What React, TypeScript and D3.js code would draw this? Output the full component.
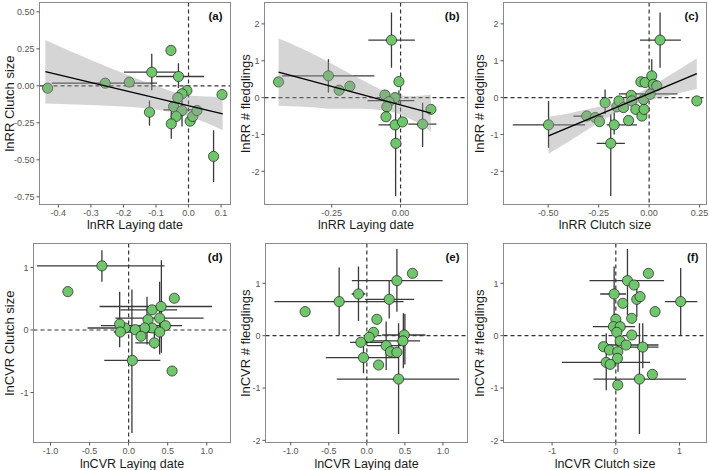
import React from "react";
import * as d3 from "d3";

// ---------- data ----------
// points: [x, y]; xErr: [y, x0, x1]; yErr: [x, y0, y1]
const aPoints = [[-0.433,-0.016],[-0.256,0.018],[-0.182,0.025],[-0.113,0.092],[-0.054,0.239],[-0.031,0.063],[-0.005,-0.032],[-0.020,-0.054],[-0.033,-0.080],[-0.120,-0.178],[-0.046,-0.140],[-0.020,-0.167],[-0.038,-0.207],[-0.053,-0.257],[0.005,-0.239],[0.013,-0.207],[0.026,-0.167],[0.103,-0.059],[0.077,-0.477]];
const aXErr = [[0.018,-0.42,-0.097],[0.092,-0.198,-0.038],[0.063,-0.100,0.048],[-0.162,-0.077,0.031]];
const aYErr = [[-0.113,0.216,-0.03],[-0.031,0.153,-0.014],[-0.12,-0.10,-0.27],[-0.053,-0.167,-0.358],[0.077,-0.30,-0.65],[-0.02,-0.10,-0.275]];
const aFitX = [-0.44, 0.105];
const aFitY = [0.096, -0.19];
const aBandX = [-0.44,-0.3,-0.2,-0.1,0,0.105];
const aBandLo = [-0.12,-0.13,-0.14,-0.16,-0.205,-0.30];
const aBandHi = [0.31,0.175,0.085,0.0,-0.065,-0.075];

const bPoints = [[-0.443,0.425],[-0.262,0.59],[-0.223,0.2],[-0.184,0.31],[-0.033,1.56],[-0.006,0.435],[-0.057,0.07],[-0.02,0.0],[-0.042,-0.11],[-0.05,-0.25],[-0.053,-0.52],[-0.02,-0.74],[0.007,-0.66],[-0.017,-1.24],[0.08,-0.72],[0.11,-0.32]];
const bXErr = [[0.59,-0.43,-0.095],[1.56,-0.117,0.052],[-0.74,-0.08,0.004],[-0.72,0.028,0.13],[-0.08,-0.12,0.05]];
const bYErr = [[-0.262,1.04,0.14],[-0.033,2.31,0.81],[-0.018,-0.1,-2.67],[0.08,-0.14,-1.34],[-0.006,0.2,-0.2]];
const bFitX = [-0.443, 0.11];
const bFitY = [0.69, -0.42];
const bBandX = [-0.443,-0.35,-0.25,-0.15,-0.05,0.03,0.11];
const bBandLo = [-0.22,-0.25,-0.3,-0.3,-0.36,-0.56,-0.92];
const bBandHi = [1.6,1.3,0.92,0.52,0.16,0.04,0.08];

const cPoints = [[-0.498,-0.74],[-0.309,-0.5],[-0.267,-0.54],[-0.246,-0.65],[-0.218,-0.14],[-0.19,-1.24],[-0.173,-0.74],[-0.16,-0.25],[-0.149,-0.09],[-0.127,-0.27],[-0.102,-0.62],[-0.089,0.06],[-0.086,-0.09],[-0.066,-0.32],[-0.036,-0.5],[-0.025,-0.32],[-0.028,-0.05],[-0.041,0.43],[-0.02,0.41],[0.013,0.59],[0.021,0.36],[0.038,0.32],[0.005,0.09],[0.054,1.56],[0.236,-0.09]];
const cXErr = [[-0.74,-0.675,-0.317],[-1.24,-0.26,-0.12],[-0.74,-0.21,-0.06],[1.56,-0.045,0.157],[0.1,-0.15,0.14],[-0.5,-0.375,-0.226]];
const cYErr = [[-0.498,-0.09,-1.36],[-0.19,-0.45,-2.67],[0.054,2.31,0.81],[0.013,1.04,0.18],[-0.218,0.22,-0.45],[-0.173,-0.4,-1.0]];
const cFitX = [-0.498, 0.236];
const cFitY = [-1.04, 0.65];
const cBandX = [-0.498,-0.4,-0.3,-0.2,-0.1,0,0.1,0.236];
const cBandLo = [-1.52,-1.2,-0.85,-0.52,-0.25,-0.07,0.06,0.23];
const cBandHi = [-0.52,-0.43,-0.31,-0.19,0.0,0.28,0.6,1.07];

const dPoints = [[-0.342,1.026],[-0.778,0.614],[0.585,0.508],[0.3,0.323],[0.415,0.376],[0.248,0.164],[0.397,0.19],[0.47,0.069],[0.303,0.032],[0.205,0.032],[0.085,0.005],[-0.043,0.032],[-0.115,0.095],[-0.107,-0.032],[0.158,-0.1],[0.397,-0.032],[0.329,-0.206],[0.047,-0.487],[0.556,-0.656]];
const dXErr = [[1.026,-1.175,0.46],[0.376,-0.372,1.068],[0.323,-0.107,0.62],[0.19,-0.17,0.96],[0.069,-0.355,0.684],[0.032,-0.526,0.534],[-0.032,-0.19,0.36],[-0.206,0.085,0.33],[-0.487,-0.312,0.406]];
const dYErr = [[-0.342,1.275,0.772],[-0.115,0.614,-0.275],[0.042,0.65,-1.646],[0.235,0.534,-0.233],[0.397,0.772,-0.39],[0.419,1.116,-0.365],[0.329,0.005,-0.3]];

const ePoints = [[-0.811,0.459],[-0.364,0.65],[-0.11,0.796],[0.395,1.05],[0.6,1.19],[0.294,0.694],[0.132,0.312],[0.088,0.064],[0.031,-0.032],[-0.079,-0.127],[-0.044,-0.42],[0.154,-0.56],[0.254,-0.19],[0.311,-0.306],[0.395,-0.318],[0.491,0.013],[0.474,-0.1],[0.417,-0.828]];
const eXErr = [[0.65,-1.215,0.482],[0.796,-0.2,-0.02],[1.05,-0.197,0.996],[0.694,-0.022,0.623],[0.013,0.2,0.77],[-0.1,0.0,0.7],[-0.127,-0.22,0.22],[-0.42,-0.54,0.41],[-0.828,-0.395,1.215],[-0.19,0.0,0.45]];
const eYErr = [[-0.364,1.3,0.013],[-0.11,1.32,0.28],[0.395,1.656,0.459],[0.294,1.045,0.33],[0.254,0.27,-0.656],[0.417,0.236,-1.88],[0.48,0.43,-0.62],[-0.044,-0.21,-0.72],[0.5,0.42,-0.55]];

const fPoints = [[1.018,0.65],[0.512,1.19],[0.183,1.05],[0.287,0.968],[-0.026,0.796],[0.329,0.694],[0.381,0.745],[0.11,0.618],[0.616,0.459],[0.25,0.331],[0,0.312],[-0.037,0.172],[0.068,0.172],[0.016,0.064],[0.25,0.013],[0.068,-0.1],[-0.193,-0.21],[-0.099,-0.274],[0.162,-0.178],[0.423,-0.217],[0.031,-0.306],[0.026,-0.433],[-0.151,-0.51],[-0.089,-0.548],[0.574,-0.739],[0.371,-0.828],[0.031,-0.943]];
const fXErr = [[0.65,0.773,1.279],[1.05,-0.413,0.757],[0.796,-0.245,0.16],[0.172,-0.36,0.3],[-0.178,-0.17,0.67],[-0.217,0.1,0.67],[-0.51,-0.846,0.538],[-0.828,-0.35,1.1]];
const fYErr = [[-0.026,1.32,0.27],[0.183,1.656,0.395],[1.018,1.29,0.01],[-0.15,0.045,-1.04],[0.371,0.236,-1.88],[0.035,-0.115,-0.69],[0.423,0.236,-0.62],[0.33,1.03,0.36]];

const tickA_X = [-0.4,-0.3,-0.2,-0.1,0,0.1];
const tickA_Y = [0.5,0.25,0,-0.25,-0.5,-0.75];
const tickB_X = [-0.25,0];
const tickC_X = [-0.5,-0.25,0,0.25];
const tickBC_Y = [2,1,0,-1,-2];
const tickDE_X = [-1,-0.5,0,0.5,1];
const tickD_Y = [1,0,-1];
const tickEF_Y = [1,0,-1,-2];
const tickF_X = [-1,0,1];

const panels = [
  { tag: "(a)", box: [39.5, 2.5, 230.5, 204.5], xd: [-0.458, 0.129], yd: [-0.802, 0.563], xt: tickA_X, yt: tickA_Y, xf: 1, yf: 2,
    xl: "lnRR Laying date", yl: "lnRR Clutch size", ylx: 9, xly: 229, pts: aPoints, xe: aXErr, ye: aYErr, fx: aFitX, fy: aFitY, bx: aBandX, blo: aBandLo, bhi: aBandHi },
  { tag: "(b)", box: [264.5, 2.5, 467.5, 204.5], xd: [-0.494, 0.243], yd: [-2.90, 2.58], xt: tickB_X, yt: tickBC_Y, xf: 2, yf: 0,
    xl: "lnRR Laying date", yl: "lnRR # fledglings", ylx: 245, xly: 229, pts: bPoints, xe: bXErr, ye: bYErr, fx: bFitX, fy: bFitY, bx: bBandX, blo: bBandLo, bhi: bBandHi },
  { tag: "(c)", box: [503.5, 2.5, 706.5, 204.5], xd: [-0.721, 0.284], yd: [-2.90, 2.58], xt: tickC_X, yt: tickBC_Y, xf: 2, yf: 0,
    xl: "lnRR Clutch size", yl: "lnRR # fledglings", ylx: 479, xly: 229, pts: cPoints, xe: cXErr, ye: cYErr, fx: cFitX, fy: cFitY, bx: cBandX, blo: cBandLo, bhi: cBandHi },
  { tag: "(d)", box: [33.5, 243.5, 230.5, 442.5], xd: [-1.218, 1.304], yd: [-1.80, 1.384], xt: tickDE_X, yt: tickD_Y, xf: 1, yf: 0,
    xl: "lnCVR Laying date", yl: "lnCVR Clutch size", ylx: 9, xly: 467.5, pts: dPoints, xe: dXErr, ye: dYErr },
  { tag: "(e)", box: [265.5, 243.5, 467.5, 442.5], xd: [-1.332, 1.323], yd: [-2.04, 1.76], xt: tickDE_X, yt: tickEF_Y, xf: 1, yf: 0,
    xl: "lnCVR Laying date", yl: "lnCVR # fledglings", ylx: 245, xly: 467.5, pts: ePoints, xe: eXErr, ye: eYErr },
  { tag: "(f)", box: [503.5, 243.5, 706.5, 442.5], xd: [-1.762, 1.423], yd: [-2.04, 1.76], xt: tickF_X, yt: tickEF_Y, xf: 0, yf: 0,
    xl: "lnCVR Clutch size", yl: "lnCVR # fledglings", ylx: 479, xly: 467.5, pts: fPoints, xe: fXErr, ye: fYErr },
];

const FONT = "'Liberation Sans', Arial, Helvetica, sans-serif";
const FILL = "#6fc66c";

function Panel({ p }: { p: any }) {
  const [x0, y0, x1, y1] = p.box;
  const xs = d3.scaleLinear().domain(p.xd).range([x0, x1]);
  const ys = d3.scaleLinear().domain(p.yd).range([y1, y0]);
  const clipId = "clip" + p.tag.replace(/[()]/g, "");
  const band = p.bx
    ? d3.area<number>().x((_, i) => xs(p.bx[i])).y0((_, i) => ys(p.blo[i])).y1((_, i) => ys(p.bhi[i])).curve(d3.curveMonotoneX)(p.bx)
    : null;
  const fit = p.fx ? d3.line<number>().x((_, i) => xs(p.fx[i])).y((_, i) => ys(p.fy[i]))(p.fx) : null;
  const cx = (x0 + x1) / 2;
  const cy = (y0 + y1) / 2;
  return (
    <g>
      <defs>
        <clipPath id={clipId}><rect x={x0} y={y0} width={x1 - x0} height={y1 - y0} /></clipPath>
      </defs>
      <g clipPath={`url(#${clipId})`}>
        <line x1={xs(0)} x2={xs(0)} y1={y0} y2={y1} stroke="#333" strokeWidth={1.2} strokeDasharray="4,3" />
        <line x1={x0} x2={x1} y1={ys(0)} y2={ys(0)} stroke="#333" strokeWidth={1.2} strokeDasharray="4,3" />
        {p.xe.map((e: number[], i: number) => (
          <line key={"xe" + i} x1={xs(e[1])} x2={xs(e[2])} y1={ys(e[0])} y2={ys(e[0])} stroke="#3a3a3a" strokeWidth={1.3} />
        ))}
        {p.ye.map((e: number[], i: number) => (
          <line key={"ye" + i} x1={xs(e[0])} x2={xs(e[0])} y1={ys(e[1])} y2={ys(e[2])} stroke="#3a3a3a" strokeWidth={1.3} />
        ))}
        {p.pts.map((d: number[], i: number) => (
          <circle key={"p" + i} cx={xs(d[0])} cy={ys(d[1])} r={5.1} fill={FILL} stroke="#1e1e1e" strokeWidth={0.7} />
        ))}
        {band && <path d={band} fill="#9a9a9a" fillOpacity={0.42} stroke="none" />}
        {fit && <path d={fit} fill="none" stroke="#000" strokeWidth={1.4} />}
      </g>
      <rect x={x0} y={y0} width={x1 - x0} height={y1 - y0} fill="none" stroke="#8a8a8a" strokeWidth={1} />
      <text x={x1 - 8} y={y0 + 17} textAnchor="end" fontSize={11.5} fontWeight="bold" fill="#111" fontFamily={FONT}>{p.tag}</text>
      {p.xt.map((t: number, i: number) => (
        <g key={"xt" + i}>
          <line x1={xs(t)} x2={xs(t)} y1={y1} y2={y1 + 3} stroke="#555" strokeWidth={1} />
          <text x={xs(t)} y={y1 + 11.5} textAnchor="middle" fontSize={9} fill="#555" fontFamily={FONT}>{t.toFixed(p.xf)}</text>
        </g>
      ))}
      {p.yt.map((t: number, i: number) => (
        <g key={"yt" + i}>
          <line x1={x0 - 3} x2={x0} y1={ys(t)} y2={ys(t)} stroke="#555" strokeWidth={1} />
          <text x={x0 - 5} y={ys(t) + 3.2} textAnchor="end" fontSize={9} fill="#555" fontFamily={FONT}>{t.toFixed(p.yf)}</text>
        </g>
      ))}
      <text x={cx} y={p.xly} textAnchor="middle" fontSize={12.5} fill="#1a1a1a" fontFamily={FONT}>{p.xl}</text>
      <text transform={`translate(${p.ylx + 4.5},${cy}) rotate(-90)`} textAnchor="middle" fontSize={13} fill="#1a1a1a" fontFamily={FONT}>{p.yl}</text>
    </g>
  );
}

export default function App() {
  return (
    <svg width={709} height={470} style={{ position: "absolute", left: 0, top: 0, background: "#fff" }}>
      <rect x={0} y={0} width={709} height={470} fill="#fff" />
      {panels.map((p) => <Panel key={p.tag} p={p} />)}
    </svg>
  );
}
